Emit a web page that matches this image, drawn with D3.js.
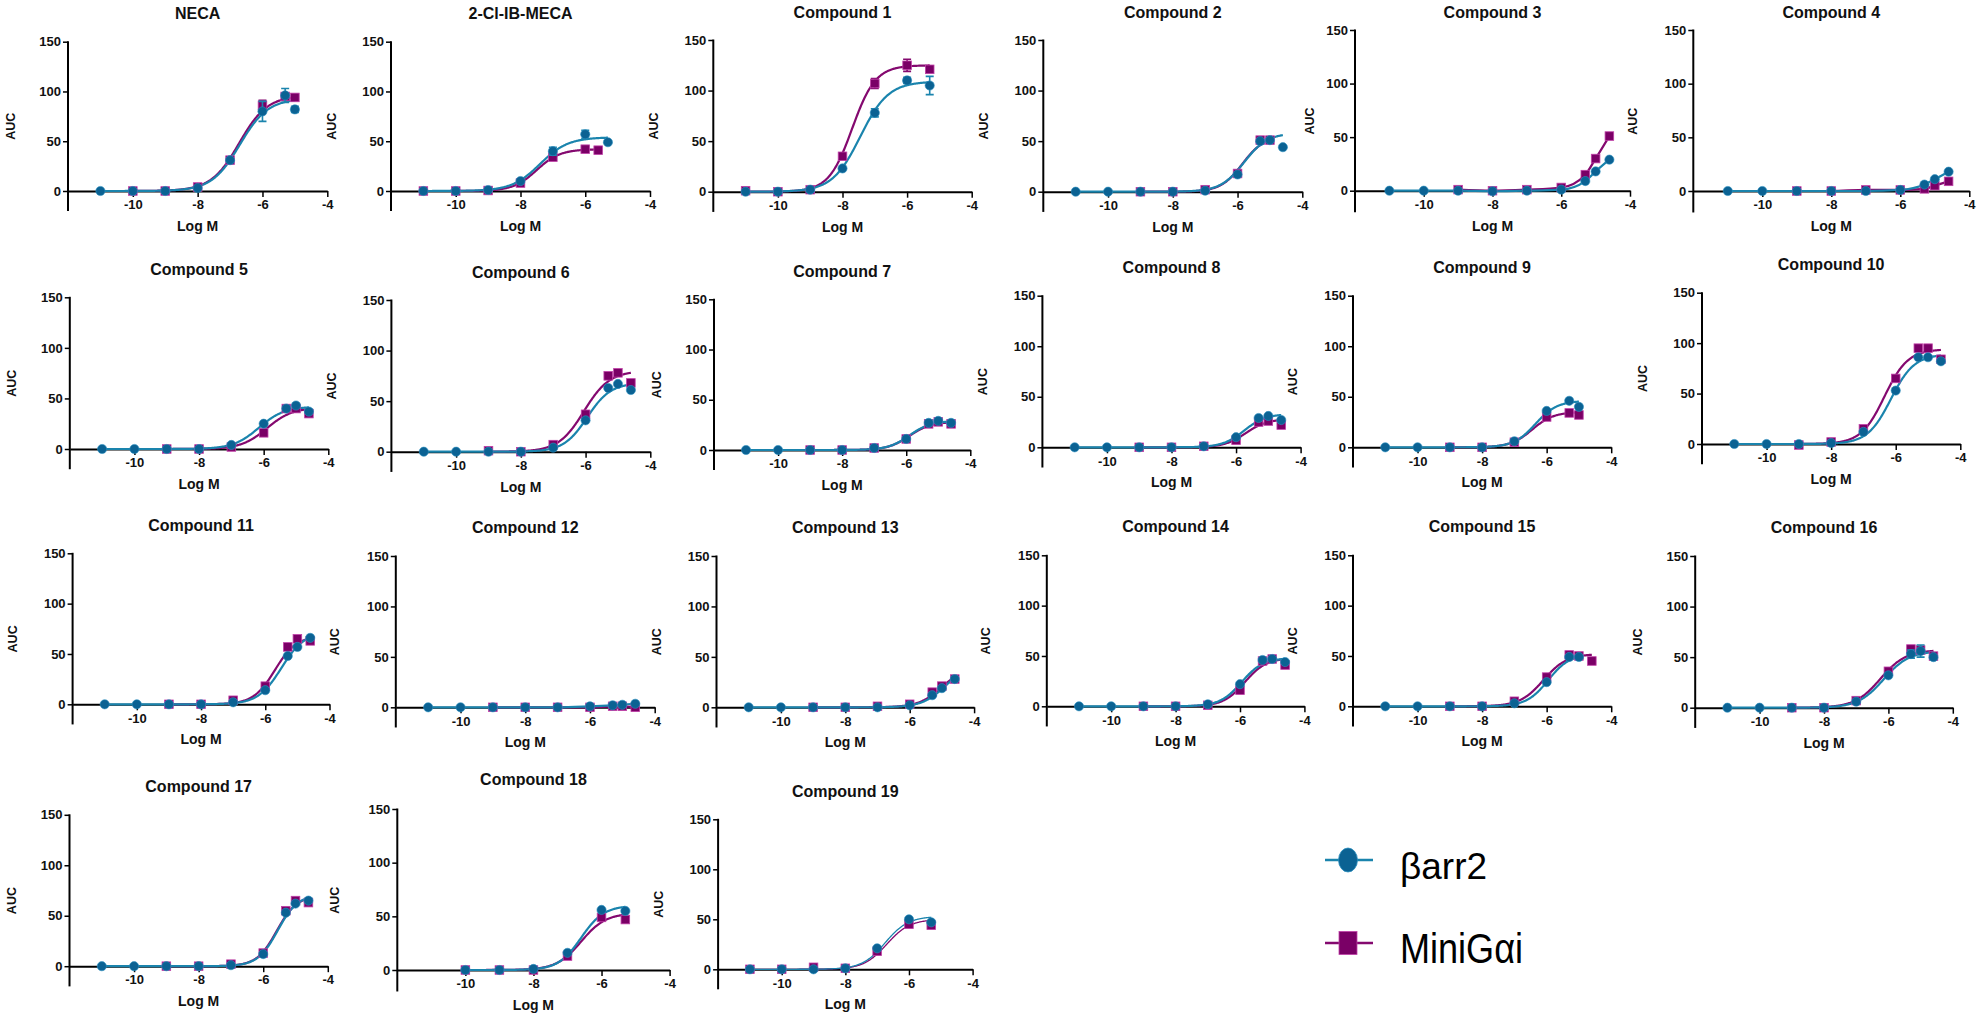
<!DOCTYPE html>
<html><head><meta charset="utf-8">
<script src="https://cdn.jsdelivr.net/npm/d3@7"></script>
<style>
body{margin:0;background:#fff}
svg{display:block}
text{font-family:"Liberation Sans",Arial,Helvetica,sans-serif}
</style>
</head><body>
<svg id="chart" width="1980" height="1020"></svg>
<script>
// ---------------- DATA ----------------
const titles = ["NECA","2-Cl-IB-MECA","Compound 1","Compound 2","Compound 3","Compound 4",
  "Compound 5","Compound 6","Compound 7","Compound 8","Compound 9","Compound 10",
  "Compound 11","Compound 12","Compound 13","Compound 14","Compound 15","Compound 16",
  "Compound 17","Compound 18","Compound 19"];
const seriesNames = ["βarr2","MiniGαi"];
const xTicks = [-10,-8,-6,-4];
const yTicks = [0,50,100,150];
const xLabel = "Log M";
const yLabel = "AUC";

const dose9 = [-11,-10,-9,-8,-7,-6,-5.3,-5,-4.6];
const dose7 = [-9,-8,-7,-6,-5.3,-5,-4.6];

const barrX = [
  [-11,-10,-9,-8,-7,-6,-5.3,-5],
  [-11,-10,-9,-8,-7,-6,-5.3],
  [-11,-10,-9,-8,-7,-6,-5.3],
  dose9, dose9, dose9, dose9, dose9, dose9, dose9,
  [-11,-10,-9,-8,-7,-6,-5.3,-5],
  dose9, dose9, dose9, dose9, dose9,
  [-11,-10,-9,-8,-7,-6,-5.3,-5],
  dose9, dose9,
  [-10,-9,-8,-7,-6,-5.3],
  [-11,-10,-9,-8,-7,-6,-5.3]
];
const barrY = [
  [0,0,0,3,31,80,96,82],
  [0,0,1,10,40,57,49],
  [0,0,2,23,78,110,105],
  [0,0,0,0,1,17,50,51,44],
  [0,0,0,-0.5,0,1,9,18,29],
  [0,0,0,0,0,1,6,11,18],
  [0,0,0,0,4,25,40,43,37],
  [0,0,0,0,4,31,63,67,61],
  [0,0,0,0,2,11,27,29,27],
  [0,0,0,0,1,10,29,31,27],
  [0,0,0,0,6,36,46,40],
  [0,0,0,1,12,53,86,86,82],
  [0,0,0,0,2,14,48,57,66],
  [0,0,0,0,0,1,2,2.5,3.5],
  [0,0,0,0,0,2,12,19,28],
  [0,0,0,0,2,22,46,47,44],
  [0,0,0,0,3,24,49,49],
  [0,0,0,0,6,32,53,56,50],
  [0,0,0,0,1,12,53,62,65],
  [0,0,1,16,56,55],
  [0,0,0,1,21,50,47]
];
const giX = [
  [-10,-9,-8,-7,-6,-5.3,-5],
  [-11,-10,-9,-8,-7,-6,-5.6],
  [-11,-10,-9,-8,-7,-6,-5.3],
  [-9,-8,-7,-6,-5.3,-5],
  dose7, dose7, dose7, dose7, dose7, dose7,
  [-9,-8,-7,-6,-5.3,-5],
  dose7, dose7, dose7, dose7, dose7, dose7, dose7, dose7,
  [-10,-9,-8,-7,-6,-5.3],
  [-11,-10,-9,-8,-7,-6,-5.3]
];
const giY = [
  [0,0,4,31,86,95,94],
  [0,0,0.5,8,34,42,41],
  [1,0,2,35,107,125,121],
  [0,0,2,18,51,51],
  [1,0,1,3,15,30,51],
  [0,0,1,1,2,5,9],
  [0,0,2,16,40,40,35],
  [1,0,7,37,75,78,68],
  [0,0,2,11,26,28,26],
  [0,0,1,7,25,26,22],
  [0,0,5,30,34,32],
  [-1,2,15,65,95,95,84],
  [0,0,4,18,57,65,63],
  [0,0,0,0,1,1,0],
  [0,0,1,3,15,21,28],
  [0,0,1,16,45,47,41],
  [0,0,5,29,51,50,45],
  [0,0,7,36,58,57,51],
  [0,0,2,13,55,65,63],
  [0,0,0,13,49,47],
  [0,0,2,1,18,45,44]
];
// SEM (0 = none drawn)
const barrErr = [
  [0,0,0,0,0,10,7,3],[0,0,0,0,4,4,0],[0,0,0,0,4,3,9],
  [],[],[],[],[],[],[],[],[],[],[],[],[],[],
  [0,0,0,0,0,0,4,6,0],[],[],[]
];
const giErr = [
  [0,0,0,0,5,3,2],[],[0,0,0,0,5,6,2],
  [],[],[],[],[],[],[],[],[],[],[],[],[],[],[],[],[],[]
];
// fitted curve parameters [top, logEC50, hill] (bottom = 0); null = points joined
const barrFit = [
  [93,-6.7,1.0],[54,-7.4,1.0],[109,-7.45,1.0],[58,-5.8,1.2],null,null,
  [42,-6.15,1.1],[68,-5.95,1.2],[29,-5.9,1.3],[33,-5.75,1.3],[46,-6.35,1.3],[89,-6.15,1.2],
  [72,-5.5,1.2],null,[42,-4.9,1.2],[48,-5.95,1.3],[52,-5.95,1.3],[56,-6.15,1.1],
  [71,-5.55,1.4],[60,-6.6,1.3],[53,-6.75,1.2]
];
const giFit = [
  [96,-6.72,1.0],[42,-7.5,1.2],[125,-7.7,1.2],[55,-5.85,1.3],null,null,
  [41,-5.9,1.1],[80,-6.05,1.1],[28,-5.9,1.3],[28,-5.7,1.3],[35,-6.45,1.3],[94,-6.35,1.2],
  [68,-5.7,1.3],null,[40,-5.0,1.2],[48,-5.85,1.3],[52,-6.1,1.2],[57,-6.25,1.1],
  [70,-5.58,1.4],[53,-6.6,1.2],[50,-6.7,1.2]
];

// ---------------- LAYOUT (pixels) ----------------
// [yAxis x, y of 150, y of 0, x of -4, title centre y, AUC label offset]
const layout = [
  [68,41.7,191,327.3,13,57],[391,41.7,191,650,13,59],[713.3,40,191.7,971.7,12.7,60],
  [1043.3,40,191.7,1302.3,12.7,60],[1355,30,190.7,1630,12.7,45],[1693.3,30,191,1969.3,12.7,61],
  [69.8,297.3,449,328.3,269.3,58],[391.4,300,451.7,650.3,272,60],[714,299.3,450,970.3,271.7,57],
  [1042.4,295.7,447.3,1300.6,267.3,60],[1353,295.7,447.3,1611.2,267.3,60],[1702,292.7,444,1960.3,264.7,59],
  [72.6,553.3,704.3,329.5,525.3,60],[395.8,556,707.3,654.7,527.7,61],[716.5,556,707.3,974.1,527.7,60],
  [1046.8,555.3,706.3,1304.4,526.7,61],[1353,555.3,706.3,1611.2,526.7,60],[1695.2,556,707.7,1952.8,527.7,58],
  [69.5,814.8,966.2,327.8,786.7,58],[397.3,809,970,669.6,779,63],[718.1,819.3,969.3,972.6,791.7,59]
];
const C = {
  barrLine:"#1a84ad", barrMark:"#0b6293",
  giLine:"#84096f", giMark:"#7a0066", giEdge:"#c040a8"
};

const svg = d3.select("#chart");
const logistic = (p, x) => p[0] / (1 + Math.pow(10, (p[1] - x) * p[2]));

titles.forEach((title, i) => {
  const [ax, y150, y0, xEnd, titleY, aucOff] = layout[i];
  const x = d3.scaleLinear().domain([-12,-4]).range([ax, xEnd]);
  const y = d3.scaleLinear().domain([0,150]).range([y0, y150]);
  const g = svg.append("g");
  const thin = i === 20;

  g.append("text").attr("x",(ax+xEnd)/2).attr("y",titleY).attr("dy","0.35em")
    .attr("text-anchor","middle").attr("font-weight","bold").attr("font-size",16)
    .attr("fill","#111").text(title);

  const ya = g.append("g").attr("transform",`translate(${ax},0)`)
    .call(d3.axisLeft(y).tickValues(yTicks).tickSize(5).tickPadding(2));
  ya.select(".domain").remove();
  ya.selectAll(".tick line").attr("stroke","#000").attr("stroke-width",1.5);
  ya.selectAll(".tick text").attr("font-size",13).attr("font-weight","bold").attr("fill","#111")
    .attr("font-family","'Liberation Sans',Arial,sans-serif");
  g.append("line").attr("x1",ax).attr("x2",ax).attr("y1",y(150)-0.5).attr("y2",y(-20))
    .attr("stroke","#000").attr("stroke-width",2);

  const xa = g.append("g").attr("transform",`translate(0,${y0})`)
    .call(d3.axisBottom(x).tickValues(xTicks).tickFormat(d3.format("d")).tickSize(6).tickSizeOuter(0).tickPadding(3));
  xa.select(".domain").attr("stroke","#000").attr("stroke-width",2);
  xa.selectAll(".tick line").attr("stroke","#000").attr("stroke-width",1.5);
  xa.selectAll(".tick text").attr("font-size",13).attr("font-weight","bold").attr("fill","#111")
    .attr("font-family","'Liberation Sans',Arial,sans-serif")
    .text(d => d < 0 ? "-" + Math.abs(d) : d);

  g.append("text").attr("x",(ax+xEnd)/2).attr("y",y0+35).attr("dy","0.35em")
    .attr("text-anchor","middle").attr("font-weight","bold").attr("font-size",14)
    .attr("fill","#111").text(xLabel);
  g.append("text").attr("transform",`translate(${ax-aucOff},${y(65)}) rotate(-90)`)
    .attr("dy","0.35em").attr("text-anchor","middle").attr("font-weight","bold")
    .attr("font-size",12.5).attr("fill","#111").text(yLabel);

  const series = [
    {xs:giX[i], ys:giY[i], err:giErr[i], fit:giFit[i], line:C.giLine, mark:C.giMark, edge:C.giEdge, sq:true},
    {xs:barrX[i], ys:barrY[i], err:barrErr[i], fit:barrFit[i], line:C.barrLine, mark:C.barrMark, edge:"#2a8fbf", sq:false}
  ];
  series.forEach(s => {
    let pts;
    if (s.fit) {
      const x0 = d3.min(s.xs), x1 = d3.max(s.xs);
      pts = d3.range(x0, x1 + 1e-6, 0.02).map(v => [v, logistic(s.fit, v)]);
    } else {
      pts = s.xs.map((v,k) => [v, s.ys[k]]);
    }
    g.append("path").datum(pts)
      .attr("d", d3.line().x(d => x(d[0])).y(d => y(d[1])).curve(s.fit ? d3.curveLinear : d3.curveMonotoneX))
      .attr("fill","none").attr("stroke", s.line).attr("stroke-width", thin ? 1.3 : 2.2);
  });
  series.forEach(s => {
    s.xs.forEach((v,k) => {
      const e = s.err && s.err[k];
      if (e) {
        const cx = x(v);
        g.append("path")
          .attr("d",`M${cx},${y(s.ys[k]-e)}V${y(s.ys[k]+e)}M${cx-4},${y(s.ys[k]+e)}H${cx+4}M${cx-4},${y(s.ys[k]-e)}H${cx+4}`)
          .attr("stroke", s.line).attr("stroke-width",1.6).attr("fill","none");
      }
    });
    if (s.sq) {
      g.selectAll(null).data(s.xs.map((v,k)=>[v,s.ys[k]])).join("rect")
        .attr("x",d=>x(d[0])-4.3).attr("y",d=>y(d[1])-4.3).attr("width",8.6).attr("height",8.6)
        .attr("fill",s.mark).attr("stroke",s.edge).attr("stroke-width",0.8);
    } else {
      g.selectAll(null).data(s.xs.map((v,k)=>[v,s.ys[k]])).join("circle")
        .attr("cx",d=>x(d[0])).attr("cy",d=>y(d[1])).attr("r",4.6)
        .attr("fill",s.mark).attr("stroke",s.edge).attr("stroke-width",0.6);
    }
  });
});

// ---------------- LEGEND ----------------
const lg = svg.append("g");
lg.append("line").attr("x1",1325).attr("x2",1373).attr("y1",860).attr("y2",860)
  .attr("stroke",C.barrLine).attr("stroke-width",2.5);
lg.append("ellipse").attr("cx",1348).attr("cy",860).attr("rx",9.5).attr("ry",12)
  .attr("fill",C.barrMark).attr("stroke","#2a8fbf").attr("stroke-width",0.8);
lg.append("text").attr("x",1400).attr("y",879).attr("font-size",36)
  .attr("textLength",87).attr("lengthAdjust","spacingAndGlyphs").attr("fill","#000").text(seriesNames[0]);
lg.append("line").attr("x1",1325).attr("x2",1373).attr("y1",943).attr("y2",943)
  .attr("stroke",C.giLine).attr("stroke-width",2.5);
lg.append("rect").attr("x",1339).attr("y",931.5).attr("width",18).attr("height",23)
  .attr("fill",C.giMark).attr("stroke",C.giEdge).attr("stroke-width",0.8);
lg.append("text").attr("x",1400).attr("y",963).attr("font-size",43)
  .attr("textLength",123).attr("lengthAdjust","spacingAndGlyphs").attr("fill","#000").text(seriesNames[1]);
</script>
</body></html>
